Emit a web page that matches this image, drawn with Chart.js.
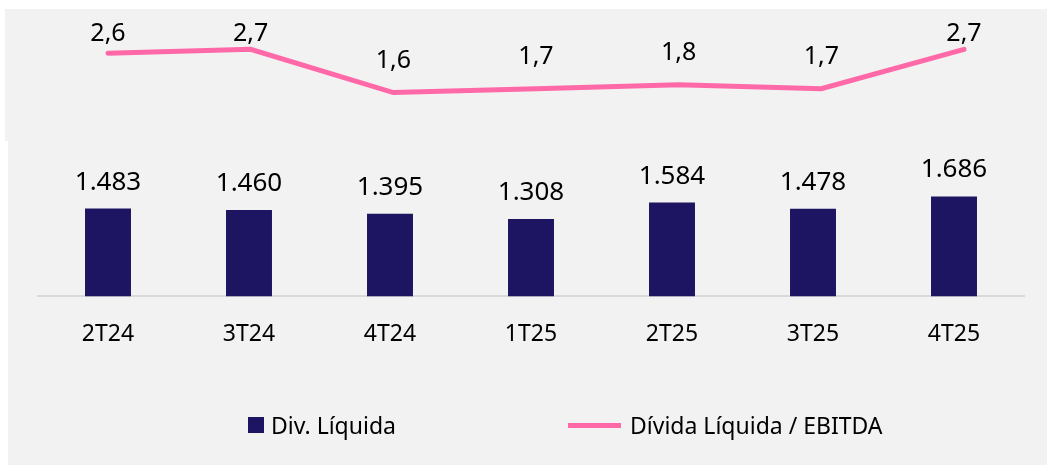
<!DOCTYPE html>
<html>
<head>
<meta charset="utf-8">
<script src="https://cdn.jsdelivr.net/npm/chart.js@4.4.1/dist/chart.umd.min.js"></script>
<style>
  body { margin: 0; background: #fff; font-family: "Noto Sans", sans-serif; }
  #fundoTopo { position: absolute; left: 5px; top: 9px; width: 1042px; height: 132px; background: #f2f2f2; }
  #fundoBase { position: absolute; left: 8px; top: 141px; width: 1039px; height: 324px; background: #f2f2f2; }
  #wrap { position: absolute; left: 6px; top: 9px; width: 1041px; height: 456px; }
  .item { position: absolute; top: 410px; height: 30px; display: flex; align-items: center; font-size: 23px; line-height: 30px; color: #000; }
  .item:nth-child(1) { left: 248px; }
  .item:nth-child(2) { left: 568px; }
  .item .marca { margin-right: 7px; }
</style>
</head>
<body>
<div id="fundoTopo"></div>
<div id="fundoBase"></div>
<div id="wrap"><canvas id="grafico"></canvas></div>
<div id="legenda"></div>
<script>
const categorias = ["2T24", "3T24", "4T24", "1T25", "2T25", "3T25", "4T25"];
const divLiquida = [1483, 1460, 1395, 1308, 1584, 1478, 1686];
const alavancagem = [2.6, 2.7, 1.6, 1.7, 1.8, 1.7, 2.7];

const corBarra = "#1D1561";
const corLinha = "#FF69A8";

Chart.defaults.font.family = "'Noto Sans', sans-serif";
Chart.defaults.color = "#000";

function formatMil(v) {
    return v.toString().replace(/\B(?=(\d{3})+(?!\d))/g, ".");
}
function formatDec(v) {
    return v.toFixed(1).replace(".", ",");
}

// rotulos de dados (barras e linha)
const rotulos = {
    id: "rotulos",
    afterDatasetsDraw(chart) {
        const ctx = chart.ctx;
        ctx.save();
        ctx.fillStyle = "#000";
        ctx.textAlign = "center";
        ctx.textBaseline = "alphabetic";
        ctx.font = "26px 'Noto Sans'";
        chart.getDatasetMeta(0).data.forEach((bar, i) => {
            ctx.fillText(formatMil(divLiquida[i]), bar.x, bar.y - 19);
        });
        ctx.font = "25px 'Noto Sans'";
        chart.getDatasetMeta(1).data.forEach((pt, i) => {
            const y = Math.max(pt.y - 25, chart.chartArea.top + 21.5);
            ctx.fillText(formatDec(alavancagem[i]), pt.x, y);
        });
        ctx.restore();
    }
};

const dataGrafico = {
    labels: categorias,
    datasets: [
        {
            type: "bar",
            label: "Div. Líquida",
            data: divLiquida,
            backgroundColor: corBarra,
            xAxisID: "x",
            yAxisID: "y",
            grouped: false,
            categoryPercentage: 1,
            barPercentage: 0.326,
            order: 2,
        },
        {
            type: "line",
            label: "Dívida Líquida / EBITDA",
            data: alavancagem.map((v, i) => ({ x: i, y: v })),
            borderColor: corLinha,
            backgroundColor: corLinha,
            borderWidth: 5,
            borderCapStyle: "round",
            pointRadius: 0,
            tension: 0,
            xAxisID: "x2",
            yAxisID: "y1",
            order: 1,
        },
    ],
};

const configGrafico = {
    data: dataGrafico,
    options: {
        responsive: true,
        maintainAspectRatio: false,
        animation: false,
        layout: {
            padding: { top: 10, left: 31.5, right: 22.5, bottom: 93 },
        },
        plugins: {
            legend: { display: false },
            tooltip: { enabled: false },
        },
        scales: {
            x: {
                grid: { display: false, drawTicks: false },
                border: { display: true, color: "#D9D9D9", width: 2 },
                ticks: { font: { size: 23 }, color: "#000", padding: 24 },
            },
            x2: {
                type: "linear",
                display: false,
                min: -0.494,
                max: 6.424,
            },
            y: {
                display: false,
                min: 0,
                max: 4681,
            },
            y1: {
                display: false,
                min: -3.59,
                max: 3.473,
            },
        },
    },
    plugins: [rotulos],
};

const grafico = new Chart(document.getElementById("grafico"), configGrafico);

// legenda em html
const legenda = document.getElementById("legenda");
grafico.data.datasets.forEach((ds) => {
    const item = document.createElement("div");
    item.className = "item";
    const marca = document.createElement("span");
    marca.className = "marca";
    if (ds.type === "bar") {
        marca.style.cssText = "width:16px;height:16px;background:" + ds.backgroundColor;
    } else {
        marca.style.cssText = "width:53px;height:5px;margin-right:9px;background:" + ds.borderColor;
    }
    const texto = document.createElement("span");
    texto.textContent = ds.label;
    item.appendChild(marca);
    item.appendChild(texto);
    legenda.appendChild(item);
});
</script>
</body>
</html>
